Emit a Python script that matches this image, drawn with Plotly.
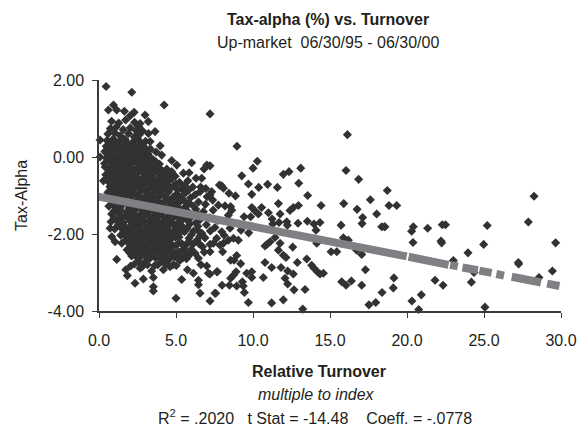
import plotly.graph_objects as go

# (relative turnover, tax-alpha) pairs
sparse_right = [
(18.72,-.87),(18.83,-1.26),(19.33,-1.26),(18.57,-1.81),(20.41,-1.81),(20.3,-1.93),(21.34,-1.85),(22.29,-1.76),(22.5,-1.76),
(25.21,-1.78),(27.88,-1.69),(28.25,-1.02),(20.39,-2.22),(22.21,-2.18),(22.25,-2.23),(24.98,-2.27),(29.65,-2.23),(23.96,-2.49),
(23.01,-2.69),(27.23,-2.74),(27.25,-2.78),(29.44,-2.96),(28.57,-3.13),(24.35,-3.0),(19.15,-3.14),(21.82,-3.2),(22.34,-3.33),
(24.18,-3.25),(19.11,-3.4),(20.93,-3.58),(20.32,-3.74),(20.76,-3.96),(25.06,-3.9),
]
sparse_mid = [
(7.21,1.12),(8.96,.28),(10.28,-.11),(10.0,-.29),(9.27,-.49),(13.1,-.29),(12.34,-.38),(11.97,-.45),(12.97,-.68),(10.95,-.71),
(11.58,-.79),(10.37,-.79),(9.7,-.7),(16.13,.58),(16.04,-.35),(16.86,-.58),(9.92,-.97),(13.55,-1.0),(17.62,-1.11),(15.89,-1.21),
(14.42,-1.26),(16.76,-1.36),(11.65,-1.21),(12.95,-1.26),(12.62,-1.31),(12.4,-1.39),(11.76,-1.48),(18.03,-1.48),(17.12,-1.57),
(17.08,-1.73),(18.36,-1.81),(18.53,-1.81),(15.72,-1.77),(10.56,-1.31),(9.92,-1.31),(10.13,-1.4),(10.35,-1.48),(11.0,-1.45),
(9.85,-1.55),(9.42,-1.55),(11.24,-1.61),(12.19,-1.68),(12.23,-1.77),(11.69,-1.7),(11.28,-1.74),(12.92,-1.72),(13.53,-1.67),
(13.96,-1.74),(14.35,-1.7),(14.09,-1.9),(14.14,-2.24),(15.87,-2.1),(16.19,-2.16),(16.73,-2.42),(17.06,-2.53),(15.07,-2.46),
(15.44,-2.46),(12.58,-2.34),(11.43,-2.09),(11.11,-2.2),(10.78,-2.31),(10.93,-2.26),(11.76,-2.24),(11.65,-2.42),(11.97,-2.55),
(12.14,-2.61),(10.78,-2.74),(12.88,-2.74),(13.49,-2.65),(13.81,-2.81),(13.96,-2.89),(14.18,-2.98),(14.57,-3.02),(14.35,-3.04),
(11.21,-2.87),(11.82,-2.87),(12.25,-2.96),(12.62,-3.04),(12.08,-3.15),(12.25,-3.3),(10.67,-3.13),(12.66,-3.45),(13.38,-3.44),
(17.3,-2.93),(15.76,-3.24),(16.04,-3.33),(16.39,-3.22),(17.06,-3.33),(18.38,-3.52),(17.97,-3.78),(17.53,-3.84),(9.7,-3.78),
(11.21,-3.79),(11.97,-3.71),(13.23,-3.95),(9.44,-3.52),(9.31,-3.24),(9.37,-3.35),(8.94,-3.35),(8.47,-3.33),(7.99,-3.33),
(7.53,-3.54),(7.21,-3.74),(8.73,-3.07),(8.55,-3.15),(8.9,-2.98),(9.59,-3.02),(9.92,-2.98),(9.92,-3.13),(7.69,-2.98),(7.21,-3.04),
(9.2,-2.77),(8.94,-2.56),(8.55,-2.68),(8.77,-2.68),(7.97,-1.94),(8.12,-2.03),(7.64,-2.11),(7.43,-2.24),(7.21,-2.27),(8.08,-2.24),
(7.86,-2.29),(8.03,-2.46),(8.4,-2.16),(8.73,-2.11),(9.05,-2.16),(8.51,-1.85),(8.4,-1.51),(9.22,-1.9),(9.72,-1.97),(7.97,-.75),
(8.08,-.81),(8.44,-.94),(8.86,-1.01),(7.32,-.9),(7.38,-1.12),(7.75,-1.25),(8.18,-1.27),(8.55,-1.29),(8.62,-1.38),(7.21,-.23),
]
edge_left = [
(.46,1.83),(2.13,1.68),(4.23,1.35),(.94,1.35),(.61,1.22),(1.15,1.22),(1.65,1.19),(2.28,1.16),(2.02,1.07),(2.99,1.09),(3.2,.92),
(2.67,.87),(2.82,.68),(3.21,.61),(3.64,.66),(.07,.44),(3.32,.4),(3.97,.29),(4.07,.05),(4.72,-.09),(6.02,-.15),(5.05,-.21),
(4.72,-.38),(4.4,-.31),(7.0,-.21),(6.82,-.31),(5.48,-.42),(5.85,-.41),(.07,0),(.29,-.62),(6.67,-.55),(6.3,-.55),(7.82,-.73),
(7.21,-.99),(6.56,-.9),(.72,-1.85),(.83,-2.07),(1.04,-2.2),(1.48,-2.24),(1.41,-2.03),(1.15,-2.66),(2.06,-2.83),(1.74,-2.93),
(1.84,-3.08),(2.34,-3.28),(2.88,-3.17),(2.67,-2.89),(2.56,-2.72),(3.32,-2.63),(3.42,-2.96),(3.53,-3.13),(3.53,-3.37),(3.53,-3.48),
(5.0,-3.67),(4.07,-2.72),(4.18,-2.93),(4.61,-2.85),(5.74,-2.93),(6.13,-3.02),(5.37,-3.18),(6.46,-3.2),(6.46,-3.32),(6.56,-3.54),
(7.58,-3.54),(7.1,-3.02),(7.65,-2.98),(7.0,-2.83),(6.24,-2.5),(6.46,-2.63),(7.21,-2.46),(5.55,-1.94),(3.86,-2.37),(4.07,-2.5),
(4.5,-2.68),(4.83,-2.8),(5.26,-2.68),(5.16,-2.24),
]
dense_upper = [
(.82,.93),(1.28,.88),(1.73,.96),(2.31,.9),(2.58,.79),(.74,.74),(1.12,.78),(1.57,.71),(2.03,.76),(2.41,.69),
(.58,.6),(1.03,.63),(1.38,.55),(1.92,.61),(2.29,.52),(2.63,.58),(.52,.43),(.93,.47),(1.31,.4),(1.7,.46),(2.19,.38),(2.52,.47),(3.02,.41),
(.47,.28),(.81,.33),(1.19,.24),(1.62,.3),(2.04,.22),(2.43,.17),(2.91,.27),(3.34,.21),(.38,.14),(.69,.09),(1.09,.16),(1.51,.08),(1.88,.13),(2.32,.06),(2.72,.12),(3.19,.08),(3.71,.13),
(.49,-.03),(.91,-.05),(1.33,.01),(1.74,-.08),(2.13,-.02),(2.62,-.06),(3.04,-.01),(3.52,-.07),(.36,-.17),(.83,-.14),(1.2,-.19),(1.59,-.13),(2.02,-.2),(2.48,-.16),(2.93,-.21),(3.41,-.13),(3.92,-.18),
(.61,-.31),(1.02,-.28),(1.42,-.33),(1.82,-.26),(2.24,-.34),(2.71,-.29),(3.12,-.36),(3.63,-.28),(4.09,-.35),(.44,-.46),(.87,-.43),(1.29,-.49),(1.68,-.42),(2.09,-.47),(2.56,-.4),(2.98,-.5),(3.47,-.44),(3.97,-.51),(4.43,-.47),(4.95,-.5),
(.56,-.62),(.97,-.58),(1.38,-.64),(1.79,-.57),(2.21,-.63),(2.67,-.59),(3.09,-.65),(3.58,-.6),(4.12,-.66),(4.58,-.6),(5.23,-.66),(5.77,-.62),
(.71,-.77),(1.11,-.74),(1.52,-.79),(1.94,-.72),(2.38,-.78),(2.83,-.73),(3.31,-.8),(3.76,-.75),(4.28,-.81),(4.82,-.76),(5.38,-.83),(6.09,-.78),(6.93,-.82),
(.58,-.92),(1.04,-.89),(1.44,-.95),(1.86,-.9),(2.29,-.94),(2.74,-.88),(3.18,-.96),(3.63,-.91),(4.07,-.97),(4.52,-.9),(5.04,-.96),(5.62,-.93),(6.24,-.98),(7.02,-1.03),
]
dense_lower = [
(.74,-1.08),(1.18,-1.12),(1.62,-1.06),(2.08,-1.13),(2.51,-1.09),(2.97,-1.15),(3.42,-1.1),(3.89,-1.17),(4.33,-1.12),(4.77,-1.19),(5.31,-1.14),(5.87,-1.2),(6.46,-1.17),(6.91,-1.23),
(.64,-1.28),(1.07,-1.31),(1.49,-1.25),(1.94,-1.33),(2.36,-1.27),(2.81,-1.35),(3.27,-1.29),(3.72,-1.36),(4.19,-1.31),(4.66,-1.38),(5.18,-1.33),(5.73,-1.4),(6.29,-1.36),(6.78,-1.42),(7.41,-1.38),
(.82,-1.48),(1.24,-1.45),(1.67,-1.52),(2.12,-1.47),(2.57,-1.54),(3.03,-1.49),(3.48,-1.56),(3.94,-1.5),(4.41,-1.58),(4.93,-1.53),(5.49,-1.6),(6.02,-1.55),(6.58,-1.62),(7.17,-1.58),(7.72,-1.65),
(.78,-1.68),(1.13,-1.65),(1.56,-1.71),(2.01,-1.66),(2.44,-1.73),(2.91,-1.68),(3.36,-1.75),(3.83,-1.7),(4.29,-1.77),(4.81,-1.72),(5.36,-1.78),(5.91,-1.74),(6.42,-1.8),(6.97,-1.76),(7.53,-1.83),
(1.02,-1.87),(1.44,-1.84),(1.88,-1.9),(2.31,-1.85),(2.76,-1.92),(3.21,-1.87),(3.68,-1.94),(4.14,-1.89),(4.62,-1.96),(5.09,-1.91),(6.13,-1.93),(6.68,-1.98),(7.23,-1.92),
(1.71,-2.06),(2.16,-2.02),(2.62,-2.09),(3.07,-2.04),(3.52,-2.11),(3.99,-2.06),(4.47,-2.13),(4.96,-2.08),(5.84,-2.11),(6.37,-2.16),(6.88,-2.1),
(1.93,-2.24),(2.39,-2.2),(2.84,-2.27),(3.31,-2.21),(3.76,-2.29),(4.28,-2.24),(4.76,-2.31),(5.62,-2.3),(6.11,-2.26),(6.72,-2.33),
(1.82,-2.41),(2.23,-2.38),(2.71,-2.45),(3.14,-2.4),(3.59,-2.47),(4.38,-2.42),(4.89,-2.49),(5.41,-2.44),(5.92,-2.52),(6.83,-2.47),
(2.12,-2.57),(2.49,-2.61),(2.94,-2.54),(3.68,-2.62),(4.66,-2.6),(5.68,-2.64),(2.31,-2.78),(2.98,-2.73),(3.82,-2.8),(5.02,-2.82),(6.62,-2.8),
]
dense_fill = [
(.7,.38),(1.04,.36),(1.9,.34),(2.3,.3),(2.72,.36),(.57,.2),(.95,.2),(1.35,.2),(1.75,.18),(2.2,.14),(2.62,.22),(3.08,.18),
(.62,.04),(1.12,.03),(1.52,.0),(1.95,.04),(2.42,.0),(2.85,.03),(3.3,.0),(.68,-.1),(1.05,-.11),(1.42,-.08),(1.85,-.12),(2.28,-.1),(2.72,-.11),(3.2,-.1),(3.68,-.12),
(.4,-.26),(.82,-.26),(1.22,-.27),(1.62,-.24),(2.05,-.27),(2.48,-.27),(2.92,-.28),(3.38,-.25),(3.86,-.27),
(.68,-.38),(1.08,-.39),(1.5,-.4),(1.9,-.38),(2.32,-.42),(2.78,-.38),(3.22,-.42),(3.72,-.38),(4.22,-.42),(.72,-.54),(1.15,-.54),(1.58,-.53),(2.0,-.55),(2.44,-.54),(2.88,-.56),(3.32,-.53),(3.82,-.56),(4.3,-.56),(4.75,-.56),
(.82,-.68),(1.25,-.7),(1.65,-.68),(2.08,-.7),(2.52,-.69),(2.96,-.7),(3.44,-.7),(3.95,-.7),(4.42,-.72),(5.0,-.7),(5.55,-.74),
(.92,-.83),(1.32,-.84),(1.72,-.82),(2.15,-.85),(2.6,-.82),(3.05,-.87),(3.55,-.85),(4.02,-.88),(4.58,-.83),(5.12,-.86),(5.82,-.86),(6.6,-.78),
(.8,-1.0),(1.24,-1.0),(1.65,-.98),(2.08,-1.02),(2.52,-1.0),(2.95,-1.04),(3.4,-1.02),(3.85,-1.05),(4.3,-1.02),(4.78,-1.05),(5.33,-1.04),(5.95,-1.06),
(.9,-1.2),(1.38,-1.2),(1.82,-1.2),(2.28,-1.2),(2.74,-1.24),(3.2,-1.2),(3.66,-1.26),(4.1,-1.22),(4.55,-1.28),(5.05,-1.24),(5.6,-1.3),(6.15,-1.28),
(.98,-1.4),(1.42,-1.38),(1.88,-1.42),(2.34,-1.38),(2.8,-1.44),(3.26,-1.4),(3.7,-1.45),(4.18,-1.42),(4.68,-1.47),(5.22,-1.44),(5.78,-1.5),(6.32,-1.46),
(.98,-1.58),(1.42,-1.58),(1.9,-1.6),(2.34,-1.62),(2.8,-1.58),(3.25,-1.65),(3.7,-1.62),(4.18,-1.66),(4.68,-1.62),(5.2,-1.68),(5.75,-1.65),(6.3,-1.7),
(1.24,-1.77),(1.68,-1.8),(2.14,-1.76),(2.58,-1.82),(3.04,-1.78),(3.5,-1.84),(3.96,-1.8),(4.44,-1.86),(4.95,-1.82),(5.72,-1.85),(6.4,-1.9),
(1.6,-1.95),(2.02,-1.94),(2.5,-2.0),(2.94,-1.96),(3.38,-2.0),(3.84,-1.98),(4.3,-2.02),(4.78,-2.0),(6.0,-2.02),(6.55,-2.06),
(1.78,-2.14),(2.26,-2.12),(2.72,-2.18),(3.18,-2.13),(3.64,-2.2),(4.1,-2.16),(4.6,-2.22),(5.82,-2.2),(6.5,-2.25),
(2.06,-2.3),(2.56,-2.32),(3.0,-2.33),(3.48,-2.32),(4.0,-2.36),(4.55,-2.36),(5.5,-2.38),(6.0,-2.4),
(1.98,-2.48),(2.42,-2.5),(2.88,-2.47),(3.4,-2.5),(4.2,-2.58),(5.12,-2.52),(5.78,-2.58),
]
extra_lower = [
(2.75,-1.1),(3.22,-1.12),(3.66,-1.14),(4.55,-1.15),(5.1,-1.1),(5.6,-1.16),(3.05,-1.3),(3.5,-1.3),(3.95,-1.33),(4.42,-1.35),(4.92,-1.3),(5.45,-1.36),
(2.35,-1.52),(2.82,-1.52),(3.26,-1.53),(3.72,-1.54),(4.16,-1.55),(4.66,-1.55),(5.2,-1.58),(5.76,-1.58),(2.2,-1.7),(2.68,-1.7),(3.14,-1.72),(3.6,-1.72),(4.06,-1.74),(4.56,-1.74),(5.08,-1.76),
(2.1,-1.88),(2.54,-1.88),(3.0,-1.9),(3.44,-1.9),(3.9,-1.92),(4.38,-1.93),(4.86,-1.94),(5.3,-1.95),
(1.95,-2.05),(2.4,-2.06),(2.85,-2.07),(3.3,-2.08),(3.76,-2.09),(4.24,-2.1),(4.72,-2.11),(5.2,-2.08),
(2.16,-2.22),(2.62,-2.24),(3.08,-2.24),(3.54,-2.26),(4.02,-2.27),(4.52,-2.28),(5.0,-2.3),(5.38,-2.25),
(2.02,-2.4),(2.48,-2.41),(2.94,-2.42),(3.38,-2.43),(3.84,-2.44),(4.14,-2.43),(4.64,-2.46),(5.16,-2.47),(5.64,-2.48),
(2.3,-2.54),(2.72,-2.58),(3.16,-2.58),(3.92,-2.6),(4.42,-2.6),(4.92,-2.6),(5.44,-2.62),(2.8,-2.85),(3.15,-2.8),(3.62,-2.82),(4.34,-2.78),
]
all_points = sparse_right + sparse_mid + edge_left + dense_upper + dense_lower + dense_fill + extra_lower
turnover = [p[0] for p in all_points]
tax_alpha = [p[1] for p in all_points]

# predicted values: the grey band, with its gaps where no fund sits
trend_x = [-.15,5,10,15,19.98,None,20.1,22.7,None,22.8,23.3,None,23.6,24.6,None,24.7,25.5,None,25.8,26.3,None,26.8,28.7,None,29.1,29.9]
trend_y = [-1.02,-1.42,-1.81,-2.2,-2.58,None,-2.59,-2.8,None,-2.8,-2.84,None,-2.87,-2.94,None,-2.95,-3.01,None,-3.04,-3.08,None,-3.11,-3.26,None,-3.29,-3.35]

x_ticks = [0,5,10,15,20,25,30]
x_labels = ["0.0","5.0","10.0","15.0","20.0","25.0","30.0"]
y_ticks = [2,0,-2,-4]
y_labels = ["2.00","0.00","-2.00","-4.00"]

FONT = "Liberation Sans, Arial, sans-serif"
INK = "#231f20"

fig = go.Figure()
fig.add_trace(go.Scatter(x=turnover, y=tax_alpha, mode="markers", cliponaxis=False, hoverinfo="skip",
                         marker=dict(symbol="diamond", size=7, color="#333132", line=dict(width=0))))
fig.add_trace(go.Scatter(x=trend_x, y=trend_y, mode="lines", cliponaxis=False, hoverinfo="skip",
                         line=dict(color="#7f8083", width=8)))

axis_common = dict(showgrid=False, zeroline=False, showline=True, linecolor="#3a3a3a", linewidth=1.5, automargin=False,
                   ticks="outside", ticklen=5, tickwidth=1, tickcolor="#3a3a3a",
                   tickfont=dict(family=FONT, size=16, color=INK))
fig.update_xaxes(range=[0,30], tickvals=x_ticks, ticktext=x_labels, ticklabelstandoff=9, **axis_common)
fig.update_yaxes(range=[-4,2], tickvals=y_ticks, ticktext=y_labels, ticklabelstandoff=5, **axis_common)
# overlaid axes carry the inner half of the crossing tick marks
inner = dict(showgrid=False, zeroline=False, showline=False, showticklabels=False, automargin=False,
             ticks="inside", ticklen=5, tickwidth=1, tickcolor="#3a3a3a")
fig.update_layout(
    xaxis2=dict(overlaying="x", anchor="y", side="bottom", range=[0,30], tickvals=x_ticks, **inner),
    yaxis2=dict(overlaying="y", anchor="x", side="left", range=[-4,2], tickvals=y_ticks, **inner),
)

def label(text, x, y, size=16, angle=0):
    fig.add_annotation(text=text, xref="paper", yref="paper", x=x, y=y, showarrow=False, textangle=angle,
                       xanchor="center", yanchor="middle", font=dict(family=FONT, size=size, color=INK))

W, H, L, R, T, B = 577, 426, 99, 16, 80, 115
px = lambda v: (v - L) / (W - L - R)
py = lambda v: (H - B - v) / (H - T - B)
label("<b>Tax-alpha (%) vs. Turnover</b>", px(328), py(20))
label("Up-market  06/30/95 - 06/30/00", px(328), py(43))
label("Tax-Alpha", px(21), py(196), 16, -90)
label("<b>Relative Turnover</b>", px(319), py(371))
label("<i>multiple to index</i>", px(316), py(394))
label("R<sup>2</sup> = .2020   t Stat = -14.48    Coeff. = -.0778", px(315), py(417))

fig.update_layout(width=W, height=H, autosize=False, showlegend=False, plot_bgcolor="white", paper_bgcolor="white",
                  margin=dict(l=L, r=R, t=T, b=B, pad=0))
fig.write_html("out.html", config={"displayModeBar": False},
               post_script="document.body.style.margin='0';document.body.style.overflow='hidden';")
